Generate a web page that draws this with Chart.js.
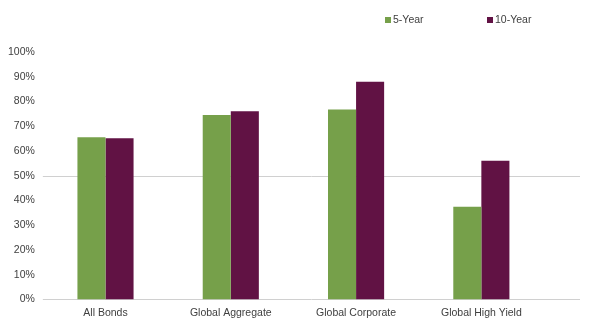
<!DOCTYPE html>
<html>
<head>
<meta charset="utf-8">
<script src="https://cdn.jsdelivr.net/npm/chart.js@4"></script>
<style>
html,body{margin:0;padding:0;background:#fff;}
#wrap{width:600px;height:326px;position:relative;}
</style>
</head>
<body>
<div id="wrap"><canvas id="c" width="600" height="326"></canvas></div>
<script>
const categories = ["All Bonds", "Global Aggregate", "Global Corporate", "Global High Yield"];
const fiveYear = [65.5, 74.5, 76.8, 37.4];
const tenYear = [65.1, 76.1, 88.0, 56.0];
const seriesNames = ["5-Year", "10-Year"];
const gridValues = [0, 50];

const GREEN = "#76A04A";
const PURPLE = "#611244";
const TEXT = "#404040";
const FONT = "'Liberation Sans', Arial, sans-serif";

const extendedGrid = {
  id: "extendedGrid",
  beforeDatasetsDraw(chart) {
    const y = chart.scales.y, a = chart.chartArea, ctx = chart.ctx;
    ctx.save();
    ctx.strokeStyle = "#d0d0d0";
    ctx.lineWidth = 1;
    gridValues.forEach(v => {
      const py = Math.round(y.getPixelForValue(v)) + 0.5;
      ctx.beginPath();
      ctx.moveTo(a.left, py);
      ctx.lineTo(a.right + 36, py);
      ctx.stroke();
    });
    ctx.restore();
  }
};

const customLegend = {
  id: "customLegend",
  afterDraw(chart) {
    const ctx = chart.ctx;
    const xs = [385, 487];
    ctx.save();
    ctx.font = "10.5px " + FONT;
    ctx.textBaseline = "middle";
    ctx.fillStyle = TEXT;
    chart.data.datasets.forEach((ds, i) => {
      ctx.fillStyle = ds.backgroundColor;
      ctx.fillRect(xs[i], 17, 6, 6);
      ctx.fillStyle = TEXT;
      ctx.fillText(ds.label, xs[i] + 8, 20.5);
    });
    ctx.restore();
  }
};

new Chart(document.getElementById("c"), {
  type: "bar",
  data: {
    labels: categories,
    datasets: [
      { label: seriesNames[0], data: fiveYear, backgroundColor: GREEN },
      { label: seriesNames[1], data: tenYear, backgroundColor: PURPLE }
    ]
  },
  options: {
    responsive: false,
    animation: false,
    devicePixelRatio: 1,
    layout: { padding: { top: 52, left: 0, right: 56, bottom: 0 } },
    datasets: { bar: { categoryPercentage: 0.448, barPercentage: 1.0 } },
    plugins: {
      legend: { display: false },
      tooltip: { enabled: false }
    },
    scales: {
      x: {
        grid: { display: false, drawTicks: false },
        border: { display: false },
        ticks: { color: TEXT, font: { family: FONT, size: 10.5 }, padding: 7, maxRotation: 0 }
      },
      y: {
        min: 0, max: 100,
        grid: { display: false, drawTicks: false },
        border: { display: false },
        ticks: {
          stepSize: 10,
          color: TEXT,
          font: { family: FONT, size: 10.5 },
          padding: 8,
          callback: v => v + "%"
        }
      }
    }
  },
  plugins: [extendedGrid, customLegend]
});
</script>
</body>
</html>
